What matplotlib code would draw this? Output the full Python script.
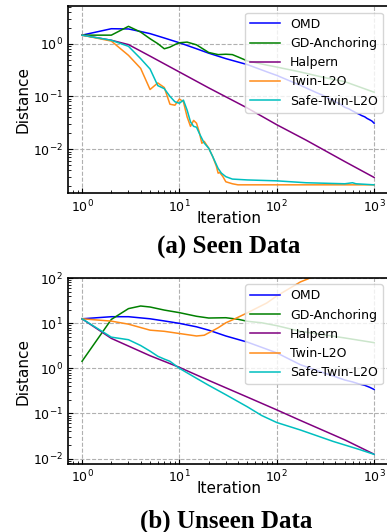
import matplotlib
matplotlib.use("Agg")
import matplotlib.pyplot as plt

# ---- (a) Seen Data ----
a_omd_it = [1, 2, 3, 4, 5, 7, 10, 15, 20, 30, 50, 80, 100, 175, 250, 300, 350, 400, 450,
            500, 550, 600, 650, 700, 750, 800, 850, 900, 950, 1000]
a_omd = [1.45, 1.92, 1.9, 1.7, 1.55, 1.28, 1.04, 0.8, 0.66, 0.52, 0.4, 0.29, 0.25, 0.162,
         0.12, 0.104, 0.09, 0.079, 0.071, 0.062, 0.058, 0.053, 0.049, 0.046, 0.043,
         0.041, 0.038, 0.036, 0.034, 0.031]

a_gd_it = [1, 2, 3, 4, 5, 6, 7, 8, 9, 10, 12, 15, 20, 25, 30, 35, 40, 50, 80, 100, 175,
           300, 500, 1000]
a_gd = [1.45, 1.45, 2.13, 1.66, 1.24, 1.0, 0.8, 0.86, 0.96, 1.04, 1.07, 0.95, 0.68, 0.62,
        0.63, 0.62, 0.56, 0.47, 0.39, 0.36, 0.29, 0.23, 0.19, 0.12]

a_hal_it = [1, 2, 3, 5, 10, 20, 50, 100, 200, 500, 1000]
a_hal = [1.45, 1.16, 0.96, 0.58, 0.29, 0.145, 0.06, 0.029, 0.0148, 0.0058, 0.0029]

a_twin_it = [1, 2, 3, 4, 5, 6, 7, 8, 9, 10, 11, 12, 13, 14, 15, 16, 17, 18, 19, 20, 22,
             24, 25, 26, 28, 30, 35, 40, 100, 1000]
a_twin = [1.45, 1.12, 0.6, 0.34, 0.135, 0.18, 0.147, 0.071, 0.068, 0.089, 0.079, 0.041,
          0.027, 0.035, 0.031, 0.021, 0.0129, 0.014, 0.012, 0.0104, 0.0072, 0.0047,
          0.0035, 0.0036, 0.003, 0.0024, 0.0022, 0.0021, 0.0021, 0.0021]

a_safe_it = [1, 2, 3, 4, 5, 6, 7, 8, 9, 10, 11, 12, 13, 14, 15, 16, 17, 18, 20, 22, 25,
             27, 30, 35, 50, 100, 200, 500, 600, 650, 1000]
a_safe = [1.45, 1.16, 0.89, 0.52, 0.33, 0.16, 0.14, 0.1, 0.079, 0.074, 0.085, 0.055, 0.033,
          0.027, 0.026, 0.02, 0.016, 0.013, 0.0104, 0.0072, 0.0043, 0.0035, 0.003, 0.0027,
          0.0026, 0.0025, 0.0023, 0.0022, 0.0023, 0.0022, 0.0021]

# ---- (b) Unseen Data ----
b_omd_it = [1, 2, 3, 5, 7, 10, 15, 20, 30, 50, 100, 175, 300, 400, 500, 600, 700, 800,
            900, 1000]
b_omd = [12.5, 13.9, 13.9, 12.5, 11.2, 9.9, 8.3, 7.0, 5.2, 3.8, 2.2, 1.2, 0.8, 0.65, 0.55,
         0.5, 0.45, 0.42, 0.38, 0.34]

b_gd_it = [1, 2, 3, 4, 5, 7, 10, 15, 20, 30, 40, 50, 70, 100, 175, 500, 1000]
b_gd = [1.43, 12.1, 21, 24, 22.8, 19.5, 17.1, 14.2, 13, 13.2, 12.2, 11, 10.2, 8.8, 6.6,
        4.7, 3.7]

b_hal_it = [1, 2, 5, 10, 20, 50, 100, 175, 500, 1000]
b_hal = [12.5, 4.6, 1.9, 1.05, 0.54, 0.23, 0.12, 0.07, 0.026, 0.0125]

b_twin_it = [1, 2, 3, 4, 5, 7, 10, 15, 18, 20, 25, 30, 36, 50, 79, 100, 175, 220, 300]
b_twin = [12.5, 11.1, 9.5, 8.0, 7.0, 6.6, 5.9, 5.2, 5.4, 6.1, 7.9, 10.2, 12.1, 17, 28, 40,
          82, 100, 150]

b_safe_it = [1, 2, 3, 4, 5, 6, 7, 8, 10, 15, 20, 30, 50, 70, 100, 175, 380, 700, 1000]
b_safe = [12.5, 4.9, 4.3, 3.2, 2.4, 1.85, 1.6, 1.43, 1.0, 0.6, 0.42, 0.26, 0.14, 0.09,
          0.063, 0.043, 0.024, 0.016, 0.0124]

labels = ["OMD", "GD-Anchoring", "Halpern", "Twin-L2O", "Safe-Twin-L2O"]
colors = ["#0000ff", "#008000", "#800080", "#ff8c1a", "#00bfbf"]


def draw(ax, series, ylim):
    for (xs, ys), lab, col in zip(series, labels, colors):
        ax.plot(xs, ys, color=col, lw=1.1, label=lab)
    ax.set_xscale("log")
    ax.set_yscale("log")
    ax.set_xlim(10 ** -0.144, 10 ** 3.155)
    ax.set_ylim(*ylim)
    ax.grid(True, which="major", ls="--", color="#b0b0b0", lw=0.8)
    ax.tick_params(which="both", direction="in", labelsize=9)
    for sp in ax.spines.values():
        sp.set_linewidth(1.2)
    ax.set_xlabel("Iteration", fontsize=11, labelpad=-3)
    ax.set_ylabel("Distance", fontsize=11, labelpad=2)
    ax.legend(loc="upper right", fontsize=9, handlelength=2.4, borderaxespad=0.5)


fig = plt.figure(figsize=(3.87, 5.32), dpi=100)
ax1 = fig.add_axes([0.1757, 0.6365, 0.83, 0.3515])
ax2 = fig.add_axes([0.1757, 0.1278, 0.83, 0.3496])

draw(ax1, [(a_omd_it, a_omd), (a_gd_it, a_gd), (a_hal_it, a_hal),
           (a_twin_it, a_twin), (a_safe_it, a_safe)], (10 ** -2.84, 10 ** 0.707))
draw(ax2, [(b_omd_it, b_omd), (b_gd_it, b_gd), (b_hal_it, b_hal),
           (b_twin_it, b_twin), (b_safe_it, b_safe)], (10 ** -2.12, 100))

cap = dict(ha="center", va="center", fontsize=18, fontweight="bold",
           family=["Liberation Serif", "DejaVu Serif"])
fig.text(229 / 387, 1 - 247 / 532, "(a) Seen Data", **cap)
fig.text(226 / 387, 1 - 521 / 532, "(b) Unseen Data", **cap)

fig.savefig("out.png", dpi=100)
